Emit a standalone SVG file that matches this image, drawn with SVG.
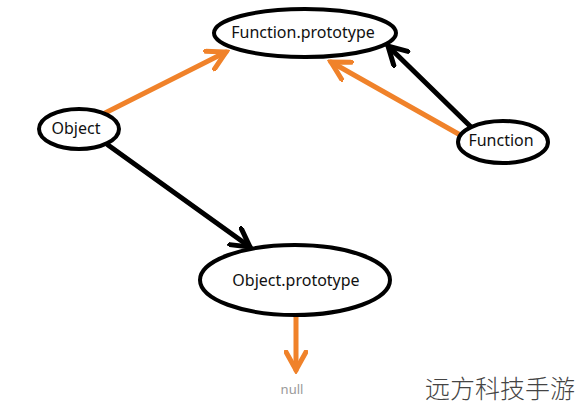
<svg xmlns="http://www.w3.org/2000/svg" width="578" height="409" viewBox="0 0 578 409">
<style>
.node{fill:#fff;stroke:#000;stroke-width:4}
.lbl{font-family:"Noto Sans","DejaVu Sans",sans-serif;font-size:16px;fill:#111;text-anchor:middle}
.blk{stroke:#000;stroke-width:5;fill:none;stroke-linecap:round}
.org{stroke:#f0822a;stroke-width:5;fill:none;stroke-linecap:round}
</style>
<defs>
<marker id="hb" markerUnits="userSpaceOnUse" viewBox="-20 -12 24 24" refX="0" refY="0" markerWidth="24" markerHeight="24" orient="auto">
<path d="M-18,-10 L0,0 L-18,10" fill="none" stroke="#000" stroke-width="5" stroke-linecap="round"/>
</marker>
<marker id="ho" markerUnits="userSpaceOnUse" viewBox="-20 -12 24 24" refX="0" refY="0" markerWidth="24" markerHeight="24" orient="auto">
<path d="M-18,-10 L0,0 L-18,10" fill="none" stroke="#f0822a" stroke-width="5" stroke-linecap="round"/>
</marker>
</defs>
<rect width="578" height="409" fill="#fff"/>
<g id="connectors">
<line class="org" x1="105" y1="113" x2="226" y2="52" marker-end="url(#ho)"/>
<line class="org" x1="462" y1="136" x2="331" y2="62" marker-end="url(#ho)"/>
<line class="blk" x1="472" y1="128" x2="388" y2="46" marker-end="url(#hb)"/>
<line class="blk" x1="108" y1="145" x2="250" y2="247" marker-end="url(#hb)"/>
<line class="org" x1="296" y1="317" x2="296" y2="370" marker-end="url(#ho)"/>
</g>
<g id="function-prototype">
<ellipse class="node" cx="305" cy="33" rx="91" ry="24"/>
<text class="lbl" x="303" y="38">Function.prototype</text>
</g>
<g id="object">
<ellipse class="node" cx="79" cy="129" rx="40" ry="20"/>
<text class="lbl" x="76" y="134">Object</text>
</g>
<g id="function">
<ellipse class="node" cx="503" cy="142" rx="45" ry="21"/>
<text class="lbl" x="501" y="146">Function</text>
</g>
<g id="object-prototype">
<ellipse class="node" cx="295" cy="280" rx="95" ry="35"/>
<text class="lbl" x="296" y="286">Object.prototype</text>
</g>
<g id="null">
<text x="292" y="394" style="font-family:'Noto Sans','DejaVu Sans',sans-serif;font-size:13px;fill:#999;text-anchor:middle">null</text>
</g>
<text x="500" y="398" style="font-family:'Noto Sans CJK SC',sans-serif;font-size:25px;fill:#444;text-anchor:middle;font-weight:300">远方科技手游</text>
</svg>
